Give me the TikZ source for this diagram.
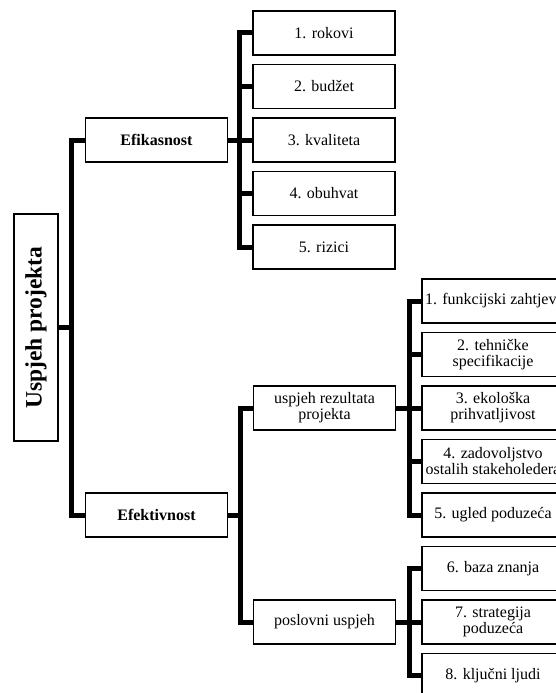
\documentclass[tikz,border=0pt]{standalone}
\usepackage{fontspec}
\setmainfont{Liberation Serif}
\begin{document}
\begin{tikzpicture}[x=1pt, y=-1pt,
		box/.style={draw, line width=1.2pt, minimum width=142pt, minimum height=44pt, inner sep=2pt, align=center, font=\fontsize{16}{16}\selectfont},
		conn/.style={line width=5pt}]
	\useasboundingbox (0,0) rectangle (555,693);
	\node[box, rotate=90, minimum width=227pt, font=\fontsize{23.5}{24}\selectfont\bfseries] (root) at (36,327.5) {Uspjeh projekta};
	\node[box, font=\fontsize{16}{16}\selectfont\bfseries] (efik) at (156.5,140) {Efikasnost};
	\node[box, font=\fontsize{16}{16}\selectfont\bfseries] (efek) at (156.5,515) {Efektivnost};
	\node[box] (e1) at (324,33) {1. rokovi};
	\node[box] (e2) at (324,86.5) {2. budžet};
	\node[box] (e3) at (324,140) {3. kvaliteta};
	\node[box] (e4) at (324,193.5) {4. obuhvat};
	\node[box] (e5) at (324,247) {5. rizici};
	\node[box] (u1) at (324.5,408) {uspjeh rezultata\\projekta};
	\node[box] (u2) at (324.5,622) {poslovni uspjeh};
	\node[box] (g1) at (493,301) {1. funkcijski zahtjevi};
	\node[box] (g2) at (493,354.5) {2. tehničke\\specifikacije};
	\node[box] (g3) at (493,408) {3. ekološka\\prihvatljivost};
	\node[box] (g4) at (493,461.5) {4. zadovoljstvo\\ostalih stakeholedera};
	\node[box] (g5) at (493,515) {5. ugled poduzeća};
	\node[box] (g6) at (493,568.5) {6. baza znanja};
	\node[box] (g7) at (493,622) {7. strategija\\poduzeća};
	\node[box] (g8) at (493,675.5) {8. ključni ljudi};
	\draw[conn] (root.south) -- ++(13.5,0);
	\draw[conn] (efik.west) -- ++(-13.5,0) |- (efek.west);
	\draw[conn] (efik.east) -- ++(12.5,0);
	\draw[conn] (e1.west) -- ++(-12.5,0) |- (e5.west);
	\foreach \i in {2,3,4}
		\draw[conn] (e\i.west) -- ++(-12.5,0);
	\draw[conn] (efek.east) -- ++(13,0);
	\draw[conn] (u1.west) -- ++(-12.5,0) |- (u2.west);
	\draw[conn] (u1.east) -- ++(14.5,0);
	\draw[conn] (g1.west) -- ++(-12,0) |- (g5.west);
	\foreach \i in {2,3,4}
		\draw[conn] (g\i.west) -- ++(-12,0);
	\draw[conn] (u2.east) -- ++(14.5,0);
	\draw[conn] (g6.west) -- ++(-12,0) |- (g8.west);
	\draw[conn] (g7.west) -- ++(-12,0);
\end{tikzpicture}
\end{document}
